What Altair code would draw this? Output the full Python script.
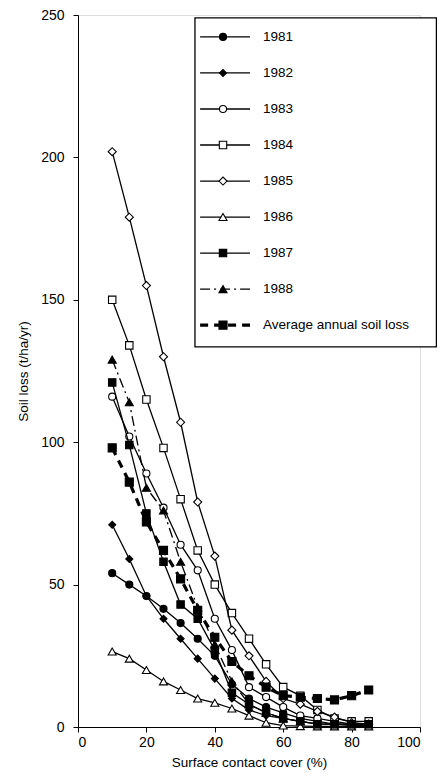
import altair as alt
import pandas as pd

# ---------------- data ----------------
cover = [10, 15, 20, 25, 30, 35, 40, 45, 50, 55, 60, 65, 70, 75, 80, 85]

loss_1981 = [54, 50, 46, 41.5, 36.5, 31, 25, 15, 10, 7, 5, 3, 2, 1, 1, 0.5]
loss_1982 = [71, 59, 46, 38, 31, 24, 17, 10, 6, 4, 3, 2, 1, 1, 0.5, 0.5]
loss_1983 = [116, 102, 89, 77, 64, 55, 38, 27, 14, 10.5, 7, 4, 3, 2, 1, 1]
loss_1984 = [150, 134, 115, 98, 80, 62, 50, 40, 31, 22, 14, 11, 6, 3, 2, 2]
loss_1985 = [202, 179, 155, 130, 107, 79, 60, 34, 25, 16, 10, 8, 5.5, 3.5, 1.5, 1]
loss_1986 = [26.5, 24, 20, 16, 13, 10, 8.5, 6.5, 4, 1.5, 0.5, 0.3, 0.2, 0.2, 0.2, 0.2]
loss_1987 = [121, 99, 75, 58, 43, 38, 27, 12, 8, 5, 3, 2, 1, 1, 1, 1]
loss_1988 = [129, 114, 84, 76, 58, 42, 29, 16, 8, 5, 3, 2, 1, 1, 1, 1]
loss_avg = [98, 86, 72, 62, 52, 41, 31.5, 23, 18, 14, 11, 10.5, 10, 9.5, 11, 13]

series_names = ["1981", "1982", "1983", "1984", "1985", "1986", "1987", "1988",
                "Average annual soil loss"]
series_values = [loss_1981, loss_1982, loss_1983, loss_1984, loss_1985,
                 loss_1986, loss_1987, loss_1988, loss_avg]

x_ticks = [0, 20, 40, 60, 80, 100]
y_ticks = [0, 50, 100, 150, 200, 250]

# ---------------- styles ----------------
# (shape, filled, strokeDash, strokeWidth, size)
styles = [
    ("circle", True, None, 1.3, 50),
    ("diamond", True, None, 1.3, 50),
    ("circle", False, None, 1.3, 50),
    ("square", False, None, 1.3, 55),
    ("diamond", False, None, 1.3, 65),
    ("triangle-up", False, None, 1.3, 65),
    ("square", True, None, 1.3, 55),
    ("triangle-up", True, [10, 4, 2, 4], 1.3, 65),
    ("square", True, [8, 6], 3.2, 65),
]

FONT = "Liberation Sans"
X_SCALE = alt.Scale(domain=[0, 100], nice=False, zero=False)
Y_SCALE = alt.Scale(domain=[0, 250], nice=False, zero=False)

x_axis = alt.Axis(values=x_ticks, grid=False, tickSize=5, labelFontSize=14,
                  titleFontSize=13.5, labelFont=FONT, titleFont=FONT,
                  labelColor="black", titleColor="black", domainColor="black",
                  tickColor="black", labelPadding=3, titlePadding=6,
                  titleFontWeight="normal", format="d")
y_axis = alt.Axis(values=y_ticks, grid=False, tickSize=5, labelFontSize=14,
                  titleFontSize=13.5, labelFont=FONT, titleFont=FONT,
                  labelColor="black", titleColor="black", domainColor="black",
                  tickColor="black", labelPadding=9, titlePadding=10,
                  titleFontWeight="normal", format="d")

X_TITLE = "Surface contact cover (%)"
Y_TITLE = "Soil loss (t/ha/yr)"


def xenc(field):
    return alt.X(field, scale=X_SCALE, axis=x_axis, title=X_TITLE)


def yenc(field):
    return alt.Y(field, scale=Y_SCALE, axis=y_axis, title=Y_TITLE)


layers = []
for name, vals, (shape, filled, dash, sw, size) in zip(series_names, series_values, styles):
    df = pd.DataFrame({"cover": cover, "loss": vals, "series": name})
    base = alt.Chart(df).encode(x=xenc("cover:Q"), y=yenc("loss:Q"))
    line_kw = dict(color="black", strokeWidth=sw)
    if dash:
        line_kw["strokeDash"] = dash
    layers.append(base.mark_line(**line_kw))
    layers.append(base.mark_point(shape=shape, filled=True,
                                  fill="black" if filled else "white",
                                  stroke="black", strokeWidth=1.1,
                                  size=size, opacity=1))

# ---------------- legend (drawn inside the plot, in data units) ----------------
leg_box = pd.DataFrame({"x": [34.2], "x2": [104.8], "y": [249.0], "y2": [133.5]})
layers.append(alt.Chart(leg_box).mark_rect(fill="white", stroke="black",
                                           strokeWidth=1.3).encode(
    x=xenc("x:Q"), x2="x2:Q", y=yenc("y:Q"), y2="y2:Q"))

leg_top = 242.3
leg_step = 12.65
for i, (name, (shape, filled, dash, sw, size)) in enumerate(zip(series_names, styles)):
    yy = leg_top - i * leg_step
    seg = pd.DataFrame({"x": [35.7], "x2": [50.3], "y": [yy]})
    rule_kw = dict(color="black", strokeWidth=sw)
    if dash:
        rule_kw["strokeDash"] = dash
    layers.append(alt.Chart(seg).mark_rule(**rule_kw).encode(
        x=xenc("x:Q"), x2="x2:Q", y=yenc("y:Q")))
    pt = pd.DataFrame({"x": [42.4], "y": [yy]})
    layers.append(alt.Chart(pt).mark_point(shape=shape, filled=True,
                                           fill="black" if filled else "white",
                                           stroke="black", strokeWidth=1.1,
                                           size=size, opacity=1).encode(
        x=xenc("x:Q"), y=yenc("y:Q")))
    tx = pd.DataFrame({"x": [54.1], "y": [yy], "label": [name]})
    layers.append(alt.Chart(tx).mark_text(align="left", baseline="middle",
                                          font=FONT, fontSize=13.5,
                                          color="black").encode(
        x=xenc("x:Q"), y=yenc("y:Q"), text="label:N"))

chart = alt.layer(*layers).properties(
    width=342, height=712,
    padding={"left": 70, "top": 7, "right": 17, "bottom": 43},
    autosize=alt.AutoSizeParams(type="none"),
).configure_view(stroke=None).configure(background="white")

chart.save("out.html", embed_options={"renderer": "svg", "actions": False})
